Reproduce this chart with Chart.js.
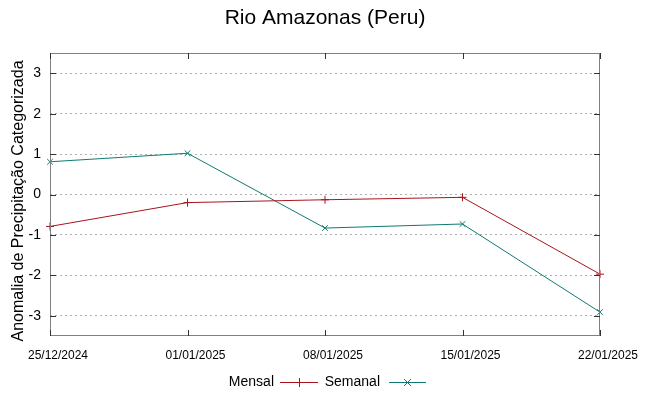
<!DOCTYPE html>
<html>
<head>
<meta charset="utf-8">
<script src="https://cdn.jsdelivr.net/npm/chart.js@4/dist/chart.umd.min.js"></script>
<style>
html,body{margin:0;padding:0;background:#fff;}
#wrap{width:649px;height:396px;position:relative;}
</style>
</head>
<body>
<div id="wrap"><canvas id="c" width="649" height="396"></canvas></div>
<script>
const chartTitle = "Rio Amazonas (Peru)";
const yTitle = "Anomalia de Precipitação Categorizada";
const dates = ["25/12/2024", "01/01/2025", "08/01/2025", "15/01/2025", "22/01/2025"];
const mensal = [-0.79, -0.20, -0.13, -0.07, -1.97];
const semanal = [0.81, 1.02, -0.83, -0.73, -2.91];
const seriesNames = ["Mensal", "Semanal"];
const yTicks = [-3, -2, -1, 0, 1, 2, 3];

const RED = "#a8141c";
const TEAL = "#0f7a72";
const FONT = "'Liberation Sans', Arial, sans-serif";

const deco = {
  id: "deco",
  afterDraw(chart) {
    const ctx = chart.ctx, a = chart.chartArea;
    const xs = chart.scales.x, ys = chart.scales.y;
    ctx.save();
    // border
    ctx.strokeStyle = "#808080";
    ctx.lineWidth = 1;
    ctx.strokeRect(a.left + 0.5, a.top + 0.5, a.right - a.left - 1, a.bottom - a.top - 1);
    // tick marks inward
    ctx.strokeStyle = "#333";
    ctx.beginPath();
    yTicks.forEach(v => {
      const y = Math.round(ys.getPixelForValue(v)) + 0.5;
      ctx.moveTo(a.left, y); ctx.lineTo(a.left + 6, y);
      ctx.moveTo(a.right, y); ctx.lineTo(a.right - 6, y);
    });
    dates.forEach((d, i) => {
      const x = Math.round(xs.getPixelForValue(i)) + 0.5;
      ctx.moveTo(x, a.bottom); ctx.lineTo(x, a.bottom - 6);
      ctx.moveTo(x, a.top); ctx.lineTo(x, a.top + 6);
    });
    ctx.stroke();
    // title
    ctx.fillStyle = "#000";
    ctx.font = "21px " + FONT;
    ctx.textAlign = "center";
    ctx.textBaseline = "middle";
    ctx.fillText(chartTitle, 325, 18);
    // y title
    ctx.save();
    ctx.translate(19, 201);
    ctx.rotate(-Math.PI / 2);
    ctx.font = "16px " + FONT;
    ctx.fillText(yTitle, 0, 0);
    ctx.restore();
    // legend
    ctx.font = "14px " + FONT;
    ctx.textAlign = "right";
    const ly = 382;
    const items = [
      {name: seriesNames[0], color: RED, tx: 274, x0: 280, x1: 318, mk: "plus"},
      {name: seriesNames[1], color: TEAL, tx: 380, x0: 389, x1: 426, mk: "x"}
    ];
    items.forEach(it => {
      ctx.fillStyle = "#000";
      ctx.fillText(it.name, it.tx, ly);
      ctx.strokeStyle = it.color;
      ctx.lineWidth = 1;
      ctx.beginPath();
      ctx.moveTo(it.x0, ly + 0.5); ctx.lineTo(it.x1, ly + 0.5);
      const cx = (it.x0 + it.x1) / 2;
      if (it.mk === "plus") {
        ctx.moveTo(cx + 0.5, ly - 4); ctx.lineTo(cx + 0.5, ly + 5);
      } else {
        ctx.moveTo(cx - 3.5, ly - 3); ctx.lineTo(cx + 3.5, ly + 4);
        ctx.moveTo(cx + 3.5, ly - 3); ctx.lineTo(cx - 3.5, ly + 4);
      }
      ctx.stroke();
    });
    ctx.restore();
  }
};

new Chart(document.getElementById("c"), {
  type: "line",
  data: {
    labels: dates,
    datasets: [
      {label: seriesNames[0], data: mensal, borderColor: RED, backgroundColor: RED,
       borderWidth: 1, pointStyle: "cross", pointRadius: 4, pointBorderWidth: 1, tension: 0, clip: false},
      {label: seriesNames[1], data: semanal, borderColor: TEAL, backgroundColor: TEAL,
       borderWidth: 1, pointStyle: "crossRot", pointRadius: 4, pointBorderWidth: 1, tension: 0, clip: false}
    ]
  },
  options: {
    responsive: false,
    animation: false,
    devicePixelRatio: 1,
    layout: {padding: {left: 0, right: 49, top: 53, bottom: 30}},
    plugins: {legend: {display: false}, title: {display: false}, tooltip: {enabled: false}},
    scales: {
      x: {
        type: "category",
        offset: false,
        grid: {display: false, drawTicks: false},
        border: {display: false},
        ticks: {color: "#000", font: {family: FONT, size: 12}, padding: 12, labelOffset: 8, maxRotation: 0, autoSkip: false},
        afterFit(s) { s.height = 30; }
      },
      y: {
        min: -3.5, max: 3.5,
        afterBuildTicks(s) { s.ticks = yTicks.map(v => ({value: v})); },
        grid: {color: "#b0b0b0", borderDash: [2, 3], drawTicks: false, lineWidth: 1},
        border: {display: false, dash: [2, 3]},
        ticks: {color: "#000", font: {family: FONT, size: 14}, padding: 9, callback: v => String(v)},
        afterFit(s) { s.width = 50; }
      }
    }
  },
  plugins: [deco]
});
</script>
</body>
</html>
